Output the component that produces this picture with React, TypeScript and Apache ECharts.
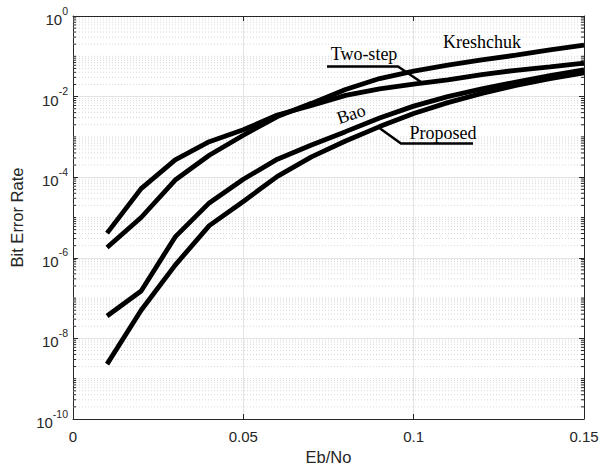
import React, { useEffect, useRef } from "react";
import * as echarts from "echarts";

// Eb/No sample points
const ebNo = [0.01, 0.02, 0.03, 0.04, 0.05, 0.06, 0.07, 0.08, 0.09, 0.1, 0.11, 0.12, 0.13, 0.14, 0.15];

// Bit error rate of each detector
const kreshchuk = [1.8e-6, 1.0e-5, 8.5e-5, 3.5e-4, 1.1e-3, 3.2e-3, 6.8e-3, 1.5e-2, 2.8e-2, 4.3e-2, 6.0e-2, 8.1e-2, 0.107, 0.145, 0.19];
const twoStep = [4.1e-6, 5.2e-5, 2.7e-4, 7.6e-4, 1.5e-3, 3.5e-3, 6.0e-3, 1.07e-2, 1.55e-2, 2.05e-2, 2.6e-2, 3.5e-2, 4.5e-2, 5.5e-2, 6.8e-2];
const bao = [3.6e-8, 1.5e-7, 3.3e-6, 2.3e-5, 8.9e-5, 2.8e-4, 6.3e-4, 1.35e-3, 2.95e-3, 5.8e-3, 1.0e-2, 1.55e-2, 2.3e-2, 3.3e-2, 4.6e-2];
const proposed = [2.3e-9, 5.0e-8, 6.6e-7, 6.3e-6, 2.5e-5, 1.05e-4, 3.2e-4, 7.9e-4, 1.8e-3, 3.8e-3, 7.1e-3, 1.2e-2, 1.9e-2, 2.8e-2, 3.9e-2];

// Axis ranges and ticks
const xMin = 0;
const xMax = 0.15;
const xStep = 0.05;
const yMin = 1e-10;
const yMax = 1;
const yDecadeStep = 2;

// Minor log grid: m x 10^k, skipping the labelled even decades
const minorValues: number[] = [];
for (let k = -10; k <= -1; k++) {
  for (let m = 1; m <= 9; m++) {
    if (m === 1 && k % 2 === 0) continue;
    minorValues.push(m * Math.pow(10, k));
  }
}

const AXIS_COLOR = "#262626";
const SANS = "'Liberation Sans', Arial, Helvetica, sans-serif";
const SERIF = "'Liberation Serif', 'Times New Roman', serif";

const zip = (ys: number[]) => ebNo.map((x, i) => [x, ys[i]]);

export default function App() {
  const ref = useRef<HTMLDivElement>(null);

  useEffect(() => {
    if (!ref.current) return;
    const chart = echarts.init(ref.current, undefined, { renderer: "svg" });

    const lineSeries = (name: string, ys: number[]) => ({
      name,
      type: "line",
      data: zip(ys),
      showSymbol: false,
      symbol: "none",
      lineStyle: { color: "#000", width: 4.8 },
      z: 5,
      silent: true,
    });

    const expLabel = (v: number) => {
      const e = Math.round(Math.log10(v));
      return `{b|10}{e|${e}}`;
    };

    chart.setOption({
      animation: false,
      backgroundColor: "#fff",
      grid: { left: 73, right: 17, top: 16, bottom: 47, containLabel: false, outerBoundsMode: "none" },
      xAxis: [
        {
          type: "value",
          min: xMin,
          max: xMax,
          interval: xStep,
          position: "bottom",
          name: "Eb/No",
          nameLocation: "middle",
          nameGap: 23,
          nameTextStyle: { fontFamily: SANS, fontSize: 16.5, color: AXIS_COLOR },
          axisLine: { show: true, lineStyle: { color: AXIS_COLOR, width: 1 } },
          axisTick: { show: true, inside: true, length: 5, lineStyle: { color: AXIS_COLOR } },
          axisLabel: {
            margin: 10,
            fontFamily: SANS,
            fontSize: 15,
            color: AXIS_COLOR,
            formatter: (v: number) => String(+v.toFixed(2)),
          },
          splitLine: { show: true, lineStyle: { color: "#e3e3e3", width: 1 } },
        },
        {
          type: "value",
          min: xMin,
          max: xMax,
          interval: xStep,
          position: "top",
          axisLine: { show: true, onZero: false, lineStyle: { color: AXIS_COLOR, width: 1 } },
          axisTick: { show: true, inside: true, length: 5, lineStyle: { color: AXIS_COLOR } },
          axisLabel: { show: false },
          splitLine: { show: false },
        },
      ],
      yAxis: [
        {
          type: "log",
          logBase: 10,
          min: yMin,
          max: yMax,
          interval: yDecadeStep,
          position: "left",
          name: "Bit Error Rate",
          nameLocation: "middle",
          nameGap: 48,
          nameTextStyle: { fontFamily: SANS, fontSize: 16.5, color: AXIS_COLOR },
          axisLine: { show: true, onZero: false, lineStyle: { color: AXIS_COLOR, width: 1 } },
          axisTick: { show: true, inside: true, length: 5, lineStyle: { color: AXIS_COLOR } },
          axisLabel: {
            margin: 5,
            formatter: expLabel,
            rich: {
              b: { fontFamily: SANS, fontSize: 15, color: AXIS_COLOR, lineHeight: 22, verticalAlign: "bottom" },
              e: { fontFamily: SANS, fontSize: 10.5, color: AXIS_COLOR, lineHeight: 22, verticalAlign: "top" },
            },
          },
          splitLine: { show: true, lineStyle: { color: "#e3e3e3", width: 1 } },
        },
        {
          type: "log",
          logBase: 10,
          min: yMin,
          max: yMax,
          interval: yDecadeStep,
          position: "right",
          axisLine: { show: true, onZero: false, lineStyle: { color: AXIS_COLOR, width: 1 } },
          axisTick: { show: true, inside: true, length: 5, lineStyle: { color: AXIS_COLOR } },
          axisLabel: { show: false },
          splitLine: { show: false },
        },
      ],
      series: [
        {
          type: "custom",
          xAxisIndex: 0,
          yAxisIndex: 0,
          silent: true,
          z: 1,
          encode: { x: 0, y: 1 },
          data: minorValues.map((v) => [xMin, v]),
          renderItem: (_params: any, api: any) => {
            const v = api.value(1);
            const p0 = api.coord([xMin, v]);
            const p1 = api.coord([xMax, v]);
            return {
              type: "group",
              children: [
                {
                  type: "line",
                  shape: { x1: p0[0], y1: p0[1], x2: p1[0], y2: p1[1] },
                  style: { stroke: "#d9d9d9", lineWidth: 1, lineDash: [1, 2] },
                },
                {
                  type: "line",
                  shape: { x1: p0[0], y1: p0[1], x2: p0[0] + 3, y2: p0[1] },
                  style: { stroke: AXIS_COLOR, lineWidth: 1 },
                },
                {
                  type: "line",
                  shape: { x1: p1[0] - 3, y1: p1[1], x2: p1[0], y2: p1[1] },
                  style: { stroke: AXIS_COLOR, lineWidth: 1 },
                },
              ],
            };
          },
        },
        lineSeries("Kreshchuk", kreshchuk),
        lineSeries("Two-step", twoStep),
        lineSeries("Bao", bao),
        lineSeries("Proposed", proposed),
      ],
      graphic: [
        {
          type: "text",
          x: 482,
          y: 42,
          z: 10,
          style: { text: "Kreshchuk", font: `18px ${SERIF}`, fill: "#000", align: "center", verticalAlign: "middle" },
        },
        {
          type: "text",
          x: 364,
          y: 54,
          z: 10,
          style: { text: "Two-step", font: `18px ${SERIF}`, fill: "#000", align: "center", verticalAlign: "middle" },
        },
        {
          type: "polyline",
          z: 10,
          shape: { points: [[327, 66.5], [398, 66.5], [421, 82]] },
          style: { stroke: "#000", lineWidth: 2.5, fill: null },
        },
        {
          type: "text",
          x: 351,
          y: 114,
          rotation: 0.33,
          z: 10,
          style: { text: "Bao", font: `18px ${SERIF}`, fill: "#000", align: "center", verticalAlign: "middle" },
        },
        {
          type: "text",
          x: 443,
          y: 133,
          z: 10,
          style: { text: "Proposed", font: `18px ${SERIF}`, fill: "#000", align: "center", verticalAlign: "middle" },
        },
        {
          type: "polyline",
          z: 10,
          shape: { points: [[378, 127], [401, 143.5], [473, 143.5]] },
          style: { stroke: "#000", lineWidth: 2.5, fill: null },
        },
      ],
    });

    return () => chart.dispose();
  }, []);

  return (
    <div
      ref={ref}
      style={{ position: "fixed", left: 0, top: 0, width: 601, height: 466, background: "#fff" }}
    />
  );
}
